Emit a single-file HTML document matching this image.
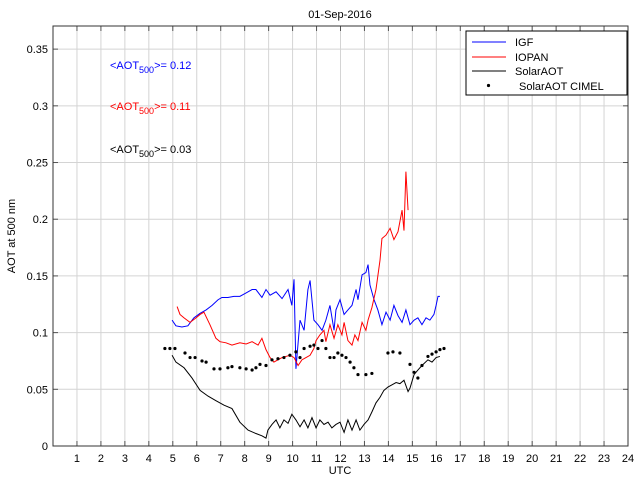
<!DOCTYPE html>
<html><head><meta charset="utf-8"><style>
body{margin:0;background:#fff;}
svg{display:block;font-family:"Liberation Sans",sans-serif;}
</style></head><body>
<svg id="chart" width="640" height="480"></svg>
<script>
const igfHours=[4.97,5.13,5.38,5.63,5.88,6.14,6.39,6.64,6.89,7.05,7.30,7.55,7.80,8.06,8.31,8.47,8.72,8.89,9.06,9.31,9.56,9.81,9.97,10.06,10.14,10.31,10.48,10.64,10.73,10.89,11.06,11.23,11.39,11.56,11.73,11.81,11.98,12.15,12.31,12.48,12.65,12.73,12.90,13.06,13.15,13.23,13.40,13.56,13.73,13.90,14.07,14.23,14.40,14.57,14.73,14.90,15.07,15.23,15.40,15.57,15.73,15.90,15.99,16.07,16.15];
const igfValues=[0.111,0.106,0.105,0.106,0.113,0.117,0.120,0.124,0.129,0.131,0.131,0.132,0.132,0.135,0.138,0.138,0.131,0.138,0.133,0.136,0.130,0.138,0.124,0.147,0.068,0.111,0.102,0.138,0.146,0.111,0.107,0.102,0.111,0.124,0.102,0.120,0.129,0.116,0.120,0.124,0.138,0.129,0.151,0.153,0.160,0.142,0.129,0.120,0.107,0.118,0.111,0.124,0.115,0.109,0.120,0.107,0.111,0.113,0.107,0.113,0.111,0.116,0.124,0.132,0.132];
const iopanHours=[5.18,5.30,5.47,5.72,5.97,6.14,6.30,6.55,6.80,6.97,7.22,7.47,7.80,8.06,8.31,8.56,8.72,8.89,9.06,9.22,9.39,9.56,9.72,9.89,10.06,10.23,10.39,10.56,10.73,10.89,10.98,11.14,11.31,11.39,11.56,11.73,11.89,12.06,12.15,12.31,12.48,12.60,12.73,12.90,13.06,13.15,13.31,13.48,13.65,13.73,13.90,14.07,14.23,14.40,14.57,14.65,14.73,14.82];
const iopanValues=[0.123,0.116,0.113,0.109,0.113,0.116,0.118,0.107,0.095,0.092,0.091,0.089,0.091,0.090,0.092,0.089,0.095,0.085,0.078,0.074,0.076,0.078,0.079,0.080,0.078,0.071,0.076,0.078,0.080,0.086,0.093,0.098,0.102,0.092,0.107,0.095,0.107,0.098,0.109,0.093,0.089,0.098,0.093,0.109,0.102,0.111,0.122,0.138,0.164,0.183,0.186,0.192,0.182,0.189,0.208,0.190,0.242,0.208];
const solarHours=[4.97,5.13,5.47,5.80,6.14,6.47,6.80,7.14,7.47,7.80,8.14,8.47,8.72,8.89,8.97,9.14,9.31,9.47,9.64,9.81,9.97,10.14,10.31,10.48,10.64,10.81,10.98,11.14,11.31,11.48,11.64,11.81,11.98,12.15,12.31,12.48,12.65,12.81,12.98,13.15,13.31,13.48,13.65,13.81,13.98,14.15,14.32,14.48,14.65,14.82,14.90,15.07,15.23,15.40,15.65,15.82,15.99,16.15];
const solarValues=[0.080,0.074,0.069,0.060,0.049,0.044,0.040,0.036,0.033,0.021,0.014,0.011,0.009,0.007,0.014,0.019,0.023,0.016,0.023,0.020,0.028,0.023,0.017,0.023,0.016,0.025,0.016,0.023,0.019,0.021,0.016,0.019,0.021,0.012,0.023,0.014,0.023,0.014,0.019,0.023,0.030,0.038,0.043,0.049,0.052,0.054,0.056,0.055,0.058,0.048,0.051,0.063,0.067,0.071,0.076,0.074,0.078,0.079];
const cimelHours=[4.67,4.88,5.09,5.51,5.72,5.93,6.22,6.39,6.72,6.97,7.30,7.47,7.80,8.06,8.31,8.47,8.64,8.89,9.14,9.39,9.64,9.89,10.14,10.31,10.48,10.73,10.89,11.06,11.23,11.39,11.56,11.73,11.89,12.06,12.23,12.40,12.56,12.73,13.06,13.31,13.98,14.19,14.48,14.90,15.07,15.23,15.40,15.65,15.82,15.99,16.15,16.32];
const cimelValues=[0.086,0.086,0.086,0.082,0.078,0.078,0.075,0.074,0.068,0.068,0.069,0.070,0.069,0.068,0.067,0.069,0.072,0.071,0.076,0.077,0.078,0.080,0.083,0.078,0.086,0.088,0.089,0.086,0.093,0.086,0.078,0.078,0.082,0.080,0.078,0.074,0.069,0.063,0.063,0.064,0.082,0.083,0.082,0.072,0.065,0.060,0.071,0.079,0.081,0.083,0.085,0.086];
const xTicks=[1,2,3,4,5,6,7,8,9,10,11,12,13,14,15,16,17,18,19,20,21,22,23,24];
const yTicks=[0,0.05,0.1,0.15,0.2,0.25,0.3,0.35];
const yTickLabels=["0","0.05","0.1","0.15","0.2","0.25","0.3","0.35"];

const L=53,R=628,T=26,B=446,XMAX=24,YMAX=0.3704;
const xs=h=>L+(R-L)*h/XMAX;
const ys=v=>B-(B-T)*v/YMAX;
const NS="http://www.w3.org/2000/svg";
const svg=document.getElementById('chart');
function mk(tag,attrs,parent){const e=document.createElementNS(NS,tag);for(const k in attrs)e.setAttribute(k,attrs[k]);(parent||svg).appendChild(e);return e;}

const grid=mk('g',{});


xTicks.forEach(t=>{
  mk('line',{x1:xs(t),x2:xs(t),y1:T,y2:B,stroke:'#d4d4d4','stroke-width':1},grid);
  mk('line',{x1:xs(t),x2:xs(t),y1:B,y2:B-5,stroke:'#555'},grid);
  mk('line',{x1:xs(t),x2:xs(t),y1:T,y2:T+5,stroke:'#555'},grid);
  const tx=mk('text',{x:xs(t),y:B+16,'text-anchor':'middle','font-size':11,fill:'#000'});
  tx.textContent=t;
  
  
});
yTicks.forEach((t,i)=>{
  mk('line',{x1:L,x2:R,y1:ys(t),y2:ys(t),stroke:'#d4d4d4'},grid);
  mk('line',{x1:L,x2:L+5,y1:ys(t),y2:ys(t),stroke:'#555'},grid);
  mk('line',{x1:R,x2:R-5,y1:ys(t),y2:ys(t),stroke:'#555'},grid);
  const tx=mk('text',{x:L-5,y:ys(t)+4,'text-anchor':'end','font-size':11,fill:'#000'});
  tx.textContent=yTickLabels[i];
  
  
});
const frame=mk('rect',{x:L,y:T,width:R-L,height:B-T,fill:'none',stroke:'#333'});



function line(hs,vs,color,name){
  const p=mk('polyline',{points:hs.map((h,i)=>xs(h)+','+ys(vs[i])).join(' '),fill:'none',stroke:color,'stroke-width':1});
  
  
}
line(igfHours,igfValues,'#0000ff','igf-line');
line(iopanHours,iopanValues,'#ff0000','iopan-line');
line(solarHours,solarValues,'#000','solaraot-line');
const dots=mk('g',{});


cimelHours.forEach((h,i)=>{
  const c=mk('circle',{cx:xs(h),cy:ys(cimelValues[i]),r:1.6,fill:'#000'},dots);
  
  
});
</script>
<svg width="640" height="480" style="position:absolute;left:0;top:0">
<text x="340" y="18" text-anchor="middle" font-size="11">01-Sep-2016</text>
<text x="340" y="474" text-anchor="middle" font-size="11">UTC</text>
<text transform="translate(15,236) rotate(-90)" text-anchor="middle" font-size="11">AOT at 500 nm</text>
<text x="110" y="69" font-size="11" fill="#0000ff">&lt;AOT<tspan font-size="9" dy="4">500</tspan><tspan dy="-4">&gt;= 0.12</tspan></text>
<text x="110" y="110" font-size="11" fill="#ff0000">&lt;AOT<tspan font-size="9" dy="4">500</tspan><tspan dy="-4">&gt;= 0.11</tspan></text>
<text x="110" y="153" font-size="11" fill="#000">&lt;AOT<tspan font-size="9" dy="4">500</tspan><tspan dy="-4">&gt;= 0.03</tspan></text>
<g>
<rect x="466" y="31" width="161" height="64" fill="#fff" stroke="#000"/>
<line x1="472" x2="506" y1="42" y2="42" stroke="#0000ff"/>
<text x="515" y="46" font-size="11">IGF</text>
<line x1="472" x2="506" y1="57" y2="57" stroke="#ff0000"/>
<text x="515" y="61" font-size="11">IOPAN</text>
<line x1="472" x2="506" y1="71" y2="71" stroke="#000"/>
<text x="515" y="75" font-size="11">SolarAOT</text>
<circle cx="488.5" cy="85.5" r="1.6" fill="#000"/>
<text x="519" y="90" font-size="11">SolarAOT CIMEL</text>
</g>
</svg>
</body></html>
